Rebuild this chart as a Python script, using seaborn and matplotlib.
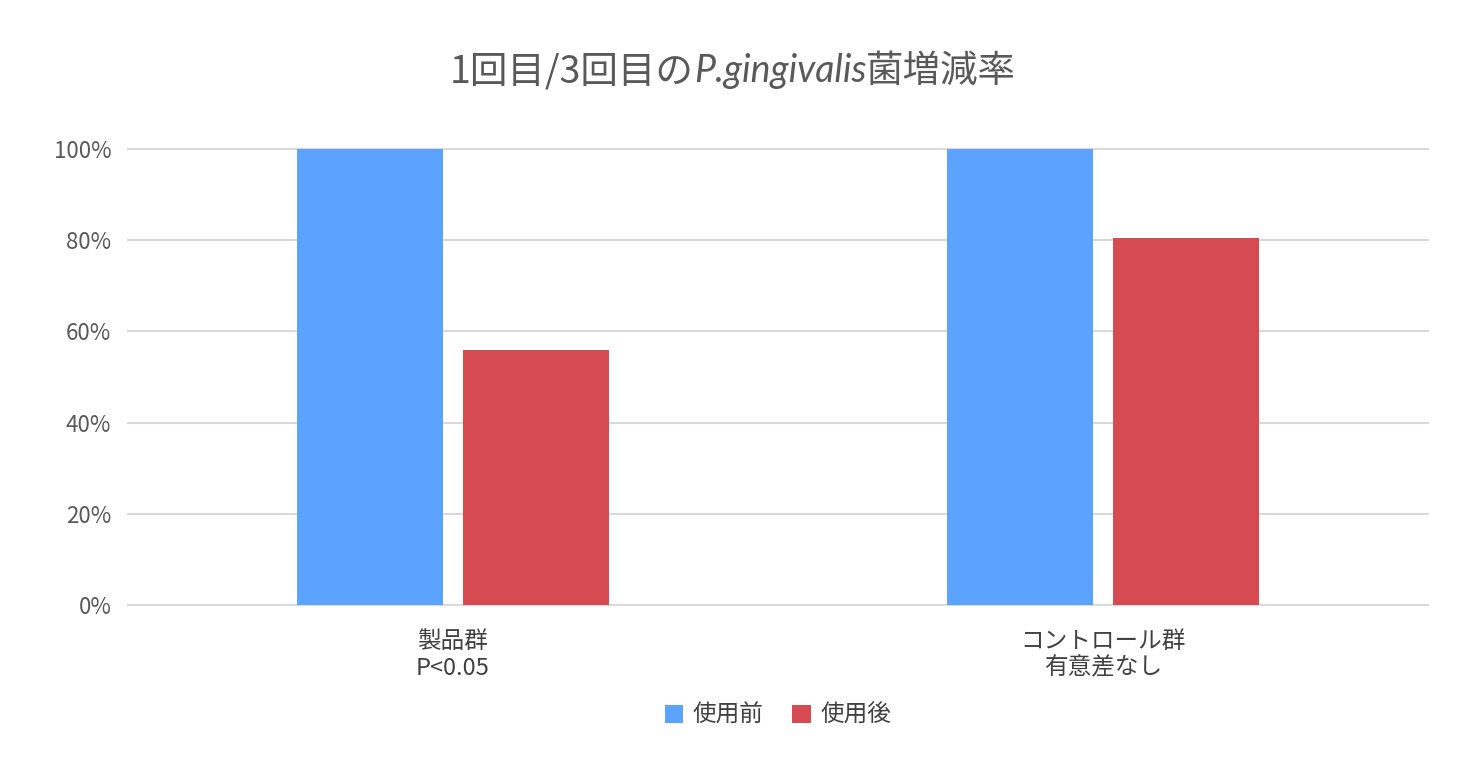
import matplotlib
matplotlib.use("Agg")
import matplotlib.pyplot as plt
import seaborn as sns
import pandas as pd
from matplotlib.ticker import PercentFormatter

groups = ["製品群\nP<0.05", "コントロール群\n有意差なし"]
series = ["使用前", "使用後"]
before = [1.00, 1.00]
after = [0.56, 0.805]

df = pd.DataFrame({
    "group": groups * 2,
    "series": [series[0]] * 2 + [series[1]] * 2,
    "value": before + after,
})

jp = "Noto Sans CJK JP"
gray = "#595959"
plt.rcParams["font.family"] = jp

fig = plt.figure(figsize=(14.66, 7.82), dpi=100)
ax = fig.add_axes([0.0873, 0.2263, 0.8867, 0.5832])
sns.barplot(data=df, x="group", y="value", hue="series",
            palette=["#5BA3FF", "#D64A52"], width=0.51, gap=0.118,
            saturation=1, ax=ax, legend=True)
ax.set_ylim(0, 1)
ax.set_xlim(-0.5, 1.5)
ax.yaxis.set_major_formatter(PercentFormatter(1.0, decimals=0))
ax.set_yticks([0, 0.2, 0.4, 0.6, 0.8, 1.0])
ax.grid(axis="y", color="#D9D9D9", linewidth=1.5, clip_on=False)
for gl in ax.get_ygridlines():
    gl.set_clip_on(False)
ax.set_axisbelow(True)
for s in ax.spines.values():
    s.set_visible(False)
ax.tick_params(length=0, labelsize=16, labelcolor=gray, pad=12)
ax.tick_params(axis="x", labelsize=17, labelcolor="#404040", pad=18)
ax.set_xlabel("")
ax.set_ylabel("")
ax.legend(loc="upper center", bbox_to_anchor=(0.5, -0.17), ncol=2, frameon=False,
          fontsize=17, handlelength=0.8, handleheight=0.8, handletextpad=0.4,
          columnspacing=1.2, labelcolor="#404040")

# title with italic species name
y = 0.895
parts = [("1回目/3回目の", jp, "normal"), ("P.gingivalis", "Lato", "italic"), ("菌増減率", jp, "normal")]
texts = [fig.text(0, y, s, fontfamily=f, fontstyle=st, fontsize=27, color=gray, va="baseline")
         for s, f, st in parts]
fig.canvas.draw()
r = fig.canvas.get_renderer()
widths = [t.get_window_extent(r).width / fig.bbox.width for t in texts]
x = 0.5 - sum(widths) / 2
for t, w in zip(texts, widths):
    t.set_x(x)
    x += w

fig.savefig("out.png", dpi=100)
